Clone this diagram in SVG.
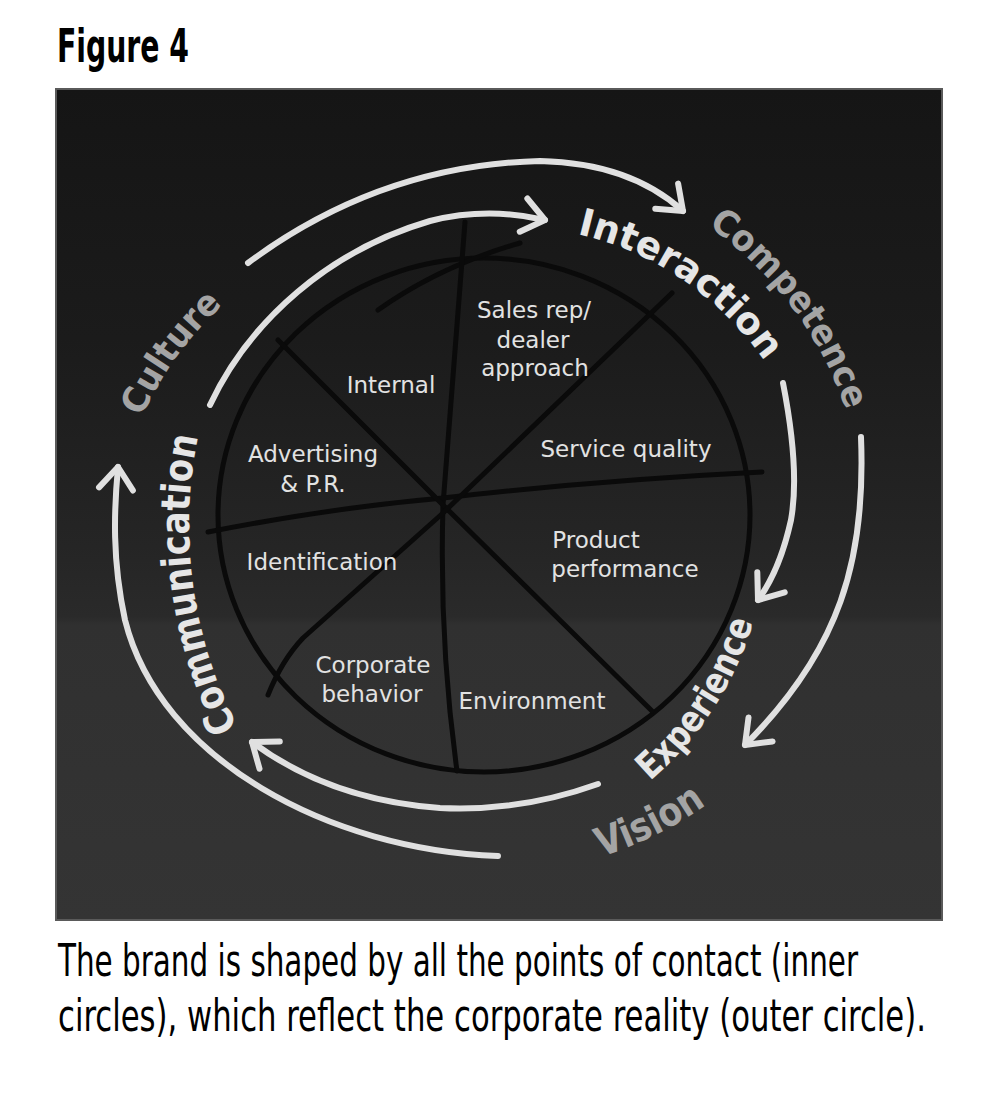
<svg xmlns="http://www.w3.org/2000/svg" width="1000" height="1093" viewBox="0 0 1000 1093">
<style>
.ink{fill:none;stroke:#0a0a0a;stroke-width:5;stroke-linecap:round;stroke-linejoin:round}
.arr{fill:none;stroke:#e0e0e0;stroke-width:6;stroke-linecap:round;stroke-linejoin:round}
.lbl{font-family:"DejaVu Sans","Liberation Sans",sans-serif;font-size:23px;fill:#e2e2e2;text-anchor:middle}
.big{font-family:"DejaVu Sans","Liberation Sans",sans-serif;font-weight:bold}
.wh{fill:#e6e6e6}
.gr{fill:#a4a4a4}
.cap{font-family:"Liberation Sans Narrow","DejaVu Sans Condensed","Liberation Sans",sans-serif;font-stretch:condensed;fill:#000}
</style>
<defs>
<linearGradient id="bg" x1="0" y1="0" x2="0" y2="1">
<stop offset="0" stop-color="#151515"/>
<stop offset="0.3" stop-color="#1b1b1b"/>
<stop offset="0.55" stop-color="#252525"/>
<stop offset="0.635" stop-color="#2a2a2a"/>
<stop offset="0.645" stop-color="#303030"/>
<stop offset="1" stop-color="#343434"/>
</linearGradient>
<marker id="head" viewBox="-30 -22 36 44" refX="0" refY="0" markerWidth="36" markerHeight="44" markerUnits="userSpaceOnUse" orient="auto">
<path d="M-22,-17 L0,0 L-22,17" fill="none" stroke="#e0e0e0" stroke-width="6" stroke-linecap="round" stroke-linejoin="round"/>
</marker>
<path id="p-interaction" d="M577,234 A310,310 0 0 1 765,362"/>
<path id="p-competence" d="M708,226 A370,370 0 0 1 846,410"/>
<path id="p-culture" d="M142,417 A340,340 0 0 1 223,305"/>
<path id="p-communication" d="M238,727 A440,440 0 0 1 198,437"/>
<path id="p-experience" d="M650,781 A330,330 0 0 0 753,622"/>
<path id="p-vision" d="M601,857 A400,400 0 0 0 706,805"/>
</defs>

<g id="title">
<text class="cap" x="57" y="62" font-size="46" font-weight="bold" textLength="132" lengthAdjust="spacingAndGlyphs">Figure 4</text>
</g>

<g id="panel">
<rect x="56" y="89" width="886" height="831" fill="url(#bg)" stroke="#5a5a5a" stroke-width="2"/>
</g>

<g id="wheel">
<ellipse class="ink" cx="484" cy="515" rx="266" ry="257"/>
<path class="ink" d="M378,310 Q440,266 520,243"/>
<path class="ink" d="M465,222 L443,505 Q439,640 457,771"/>
<path class="ink" d="M208,532 Q330,508 443,498 Q600,480 762,472"/>
<path class="ink" d="M278,340 L443,505 L652,711"/>
<path class="ink" d="M672,293 L443,513 L303,638 Q282,660 268,695"/>
</g>

<g id="connectors">
<path class="arr" marker-end="url(#head)" d="M248,263 Q380,165 540,161 Q630,163 683,211"/>
<path class="arr" marker-end="url(#head)" d="M210,405 C250,320 330,250 430,221 C470,211 510,212 545,220"/>
<path class="arr" marker-end="url(#head)" d="M783,383 Q800,470 791,520 Q780,570 758,600"/>
<path class="arr" marker-end="url(#head)" d="M861,437 C866,560 840,650 745,745"/>
<path class="arr" marker-end="url(#head)" d="M598,784 Q520,812 440,808 Q330,800 252,742"/>
<path class="arr" marker-end="url(#head)" d="M498,856 C330,850 160,760 125,620 C112,560 114,510 118,467"/>
</g>

<g id="node-sales"><text class="lbl" x="534" y="318">Sales rep/</text><text class="lbl" x="533" y="348">dealer</text><text class="lbl" x="535" y="376">approach</text></g>
<g id="node-internal"><text class="lbl" x="391" y="393">Internal</text></g>
<g id="node-advertising"><text class="lbl" x="313" y="462">Advertising</text><text class="lbl" x="313" y="492">&amp; P.R.</text></g>
<g id="node-service"><text class="lbl" x="626" y="457">Service quality</text></g>
<g id="node-product"><text class="lbl" x="596" y="548">Product</text><text class="lbl" x="625" y="577">performance</text></g>
<g id="node-identification"><text class="lbl" x="322" y="570">Identification</text></g>
<g id="node-corporate"><text class="lbl" x="373" y="673">Corporate</text><text class="lbl" x="372" y="702">behavior</text></g>
<g id="node-environment"><text class="lbl" x="532" y="709">Environment</text></g>

<g id="node-interaction"><text class="big wh" font-size="38" textLength="232" lengthAdjust="spacingAndGlyphs"><textPath href="#p-interaction">Interaction</textPath></text></g>
<g id="node-competence"><text class="big gr" font-size="36" textLength="234" lengthAdjust="spacingAndGlyphs"><textPath href="#p-competence">Competence</textPath></text></g>
<g id="node-culture"><text class="big gr" font-size="36" textLength="139" lengthAdjust="spacingAndGlyphs"><textPath href="#p-culture">Culture</textPath></text></g>
<g id="node-communication"><text class="big wh" font-size="40" textLength="299" lengthAdjust="spacingAndGlyphs"><textPath href="#p-communication">Communication</textPath></text></g>
<g id="node-experience"><text class="big wh" font-size="37" textLength="192" lengthAdjust="spacingAndGlyphs"><textPath href="#p-experience">Experience</textPath></text></g>
<g id="node-vision"><text class="big gr" font-size="40" textLength="118" lengthAdjust="spacingAndGlyphs"><textPath href="#p-vision">Vision</textPath></text></g>

<g id="caption">
<text class="cap" x="58" y="976" font-size="44" textLength="800" lengthAdjust="spacingAndGlyphs">The brand is shaped by all the points of contact (inner</text>
<text class="cap" x="58" y="1031" font-size="44" textLength="868" lengthAdjust="spacingAndGlyphs">circles), which reflect the corporate reality (outer circle).</text>
</g>
</svg>
